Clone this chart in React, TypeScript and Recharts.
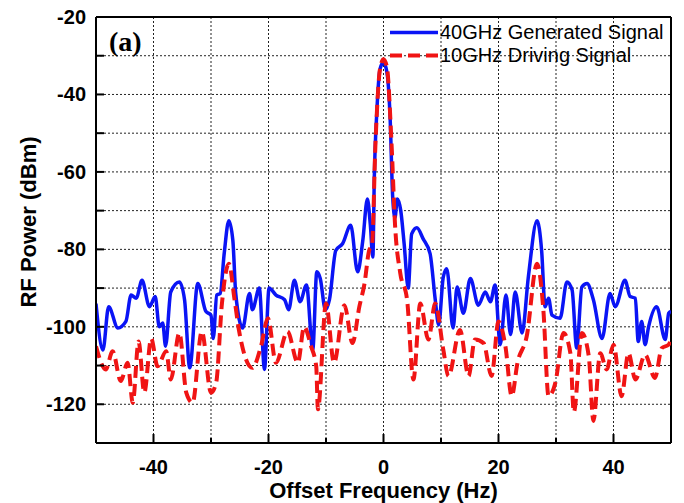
import React from 'react'
import { LineChart, Line, XAxis, YAxis, CartesianGrid, ReferenceLine, Legend, Label } from 'recharts'

// 40GHz generated signal (blue, solid)
const genX = [-50, -48.8, -47.8, -46.2, -44.8, -43.9, -43, -42, -40.7, -39.7, -39, -38.4, -37.9, -37, -35.5, -34.6, -33.7, -32.3, -30.9, -30, -29.6, -29, -28.4, -27.7, -26.9, -26.2, -25.7, -24.5, -23.3, -22.8, -21.6, -20.7, -19.9, -18.7, -17.2, -16.5, -15.5, -14.5, -13.4, -12.3, -11.6, -11, -10.1, -9.4, -8.3, -7.1, -5.7, -4.5, -3.6, -2.8, -2.3, -1.85, -1.6, -1.15, -0.6, 0, 0.6, 1.15, 1.6, 2.0, 2.4, 3.0, 3.6, 4.3, 4.9, 5.8, 6.9, 8.1, 9.0, 9.6, 10.4, 11, 12.1, 12.8, 13.9, 15.1, 16.5, 17.7, 18.6, 19.4, 20.3, 21.3, 22.1, 22.9, 24.1, 25.2, 26.7, 27.5, 28.1, 28.7, 29.3, 30.7, 31.9, 32.8, 33.6, 34.5, 35.4, 36.5, 38, 39.4, 40.3, 42, 42.9, 43.8, 44.3, 44.9, 45.5, 46.1, 47.5, 49, 49.6, 50]
const genPower = [-94, -106, -94.8, -100.3, -98.6, -91.8, -92.6, -88, -94.8, -92.2, -100, -99, -105, -91, -88.4, -93, -110.6, -88.8, -96, -97, -103, -91.8, -91.4, -81, -72.6, -77.7, -91.4, -100.3, -91.4, -95.6, -90, -111, -90, -91.8, -93, -95.6, -88, -93.5, -89.2, -105.9, -85.8, -87.5, -95.6, -93, -80.3, -78.5, -73.8, -85.8, -77.7, -67, -73.5, -82, -61.5, -44.2, -33.4, -31.7, -34.3, -46, -66.6, -71.8, -67, -70, -78.7, -90, -76, -74.4, -77.3, -81.1, -93, -99.5, -87.1, -85, -100.3, -89.7, -96.5, -87.5, -94.4, -91, -93.5, -89.2, -104.6, -91.8, -102, -91, -101.6, -87, -72.6, -80.3, -94.8, -92.6, -97, -97.8, -88.4, -90.5, -105.5, -89.7, -88.8, -93, -103, -91.4, -94.8, -88, -92.2, -92.6, -103.8, -98.6, -104.6, -100, -94.8, -103.3, -96.5, -96]

// 10GHz driving signal (red, dashed)
const drvX = [-50, -48.3, -47.1, -45.7, -44.5, -43.6, -42.6, -41.6, -40.4, -39.3, -37.8, -37, -35.5, -34.3, -33.2, -31.6, -30, -29.1, -28.1, -26.9, -25.9, -25.1, -22.8, -21.3, -20.1, -18.7, -16.7, -14.9, -13.8, -12.6, -11.7, -11.4, -10, -8.6, -6.8, -5.4, -4.2, -3.3, -2.5, -2.0, -1.4, -0.6, 0, 0.6, 1.4, 2.0, 2.9, 4.1, 5.2, 6.4, 7.8, 9, 10.4, 11.3, 13.3, 14.8, 15.9, 17.4, 18.8, 20, 21.2, 22.3, 23.3, 24.9, 26.7, 27.8, 28.7, 29.9, 31.3, 32.5, 33.1, 34.5, 35.7, 36.5, 37.7, 38.8, 40, 41.4, 42.6, 43.8, 45.5, 47.2, 48.4, 49.6, 50]
const drvPower = [-105, -111, -106.3, -114, -109.3, -119.6, -103.8, -117, -103, -110.2, -106.3, -113.6, -101.6, -117, -119.6, -101.2, -117, -114.4, -94, -83.7, -93, -101.2, -110.6, -105, -97.8, -109.3, -101.2, -109.3, -100, -105, -110.2, -121.3, -94, -109.3, -94.4, -104.2, -94.8, -88.8, -80.3, -79, -52.8, -33.4, -30.9, -33, -52.8, -73.5, -86, -93, -113.6, -94, -103.3, -94, -105.9, -112.7, -100.8, -112.7, -103.3, -104.2, -112.7, -98.6, -105, -117.9, -109.3, -102.5, -83.7, -95.6, -117.9, -114.4, -101.6, -106.8, -122, -101.6, -107.6, -124.3, -106.8, -111, -104.6, -117.9, -106.8, -113.6, -107.2, -113.2, -105.5, -104.6, -103]

const xTicks = [-50, -40, -30, -20, -10, 0, 10, 20, 30, 40, 50]
const yTicks = [-130, -120, -110, -100, -90, -80, -70, -60, -50, -40, -30, -20]

const genData = genX.map((x, i) => ({ x, y: genPower[i] }))
const drvData = drvX.map((x, i) => ({ x, y: drvPower[i] }))

const FONT = '"Liberation Sans", Arial, sans-serif'
const BLUE = '#0a14f5'
const RED = '#f01414'

const XTick = ({ x, y, payload }: any) => {
  const v = payload.value
  if (v === -50 || v === 50) return null
  const major = v % 20 === 0
  return (
    <g>
      <line x1={x} y1={y} x2={x} y2={y - (major ? 9 : 5)} stroke="#000" strokeWidth={2} />
      {major && (
        <text x={x} y={y + 30.5} textAnchor="middle" fontFamily={FONT} fontWeight="bold" fontSize={20} fill="#000">
          {v}
        </text>
      )}
    </g>
  )
}

const YTick = ({ x, y, payload }: any) => {
  const v = payload.value
  if (v === -130) return null
  const major = v % 20 === 0
  return (
    <g>
      {v !== -20 && <line x1={x} y1={y} x2={x + 8} y2={y} stroke="#000" strokeWidth={2} />}
      {major && (
        <text x={x - 10} y={y + 7} textAnchor="end" fontFamily={FONT} fontWeight="bold" fontSize={20} fill="#000">
          {v}
        </text>
      )}
    </g>
  )
}

const LegendBox = () => (
  <div style={{ fontFamily: FONT, fontSize: 20, color: '#000', lineHeight: '23px' }}>
    <div style={{ display: 'flex', alignItems: 'center', height: 23 }}>
      <svg width={52} height={23}>
        <line x1={4} y1={11.5} x2={52} y2={11.5} stroke={BLUE} strokeWidth={3.5} />
      </svg>
      <span style={{ marginLeft: 2 }}>40GHz Generated Signal</span>
    </div>
    <div style={{ display: 'flex', alignItems: 'center', height: 23 }}>
      <svg width={52} height={23}>
        <line x1={4} y1={11.5} x2={52} y2={11.5} stroke={RED} strokeWidth={4} strokeDasharray="12 6" />
      </svg>
      <span style={{ marginLeft: 2 }}>10GHz Driving Signal</span>
    </div>
  </div>
)

export default function App() {
  return (
    <div style={{ position: 'absolute', left: 0, top: 0, width: 684, height: 503, background: '#fff' }}>
      <LineChart width={684} height={503} margin={{ top: 17, right: 13, left: 0, bottom: 0 }}>
        <CartesianGrid stroke="#222" strokeDasharray="2 2" strokeWidth={1} />
        <XAxis
          dataKey="x"
          type="number"
          domain={[-50, 50]}
          ticks={xTicks}
          allowDataOverflow
          height={60}
          tickSize={0}
          tickMargin={0}
          tickLine={false}
          axisLine={{ stroke: '#000', strokeWidth: 2 }}
          tick={<XTick />}
        >
          <Label
            value="Offset Frequency (Hz)"
            position="insideBottom"
            offset={5}
            style={{ fontFamily: FONT, fontWeight: 'bold', fontSize: 22, fill: '#000' }}
          />
        </XAxis>
        <YAxis
          type="number"
          domain={[-130, -20]}
          ticks={yTicks}
          allowDataOverflow
          width={96}
          tickSize={0}
          tickMargin={0}
          tickLine={false}
          axisLine={{ stroke: '#000', strokeWidth: 2 }}
          tick={<YTick />}
        >
          <Label
            content={({ viewBox }: any) => {
              const cx = viewBox.x + 36
              const cy = viewBox.y + viewBox.height / 2 - 8
              return (
                <text
                  x={cx}
                  y={cy}
                  transform={`rotate(-90, ${cx}, ${cy})`}
                  textAnchor="middle"
                  fontFamily={FONT}
                  fontWeight="bold"
                  fontSize={22}
                  fill="#000"
                >
                  RF Power (dBm)
                </text>
              )
            }}
          />
        </YAxis>
        <ReferenceLine y={-20} stroke="#000" strokeWidth={2} />
        <ReferenceLine x={50} stroke="#000" strokeWidth={2} />
        <Legend
          layout="vertical"
          align="center"
          verticalAlign="middle"
          content={<LegendBox />}
          wrapperStyle={{ left: 386, top: 21, width: 290, height: 50 }}
        />
        <Line
          data={genData}
          dataKey="y"
          name="40GHz Generated Signal"
          type="monotone"
          stroke={BLUE}
          strokeWidth={3.5}
          dot={false}
          isAnimationActive={false}
        />
        <Line
          data={drvData}
          dataKey="y"
          name="10GHz Driving Signal"
          type="monotone"
          stroke={RED}
          strokeWidth={4}
          strokeDasharray="12 6"
          dot={false}
          isAnimationActive={false}
        />
      </LineChart>
      <div
        style={{
          position: 'absolute',
          left: 109,
          top: 28,
          fontFamily: '"Liberation Serif", "Times New Roman", serif',
          fontWeight: 'bold',
          fontSize: 28,
          lineHeight: '28px',
          color: '#000',
        }}
      >
        (a)
      </div>
    </div>
  )
}
